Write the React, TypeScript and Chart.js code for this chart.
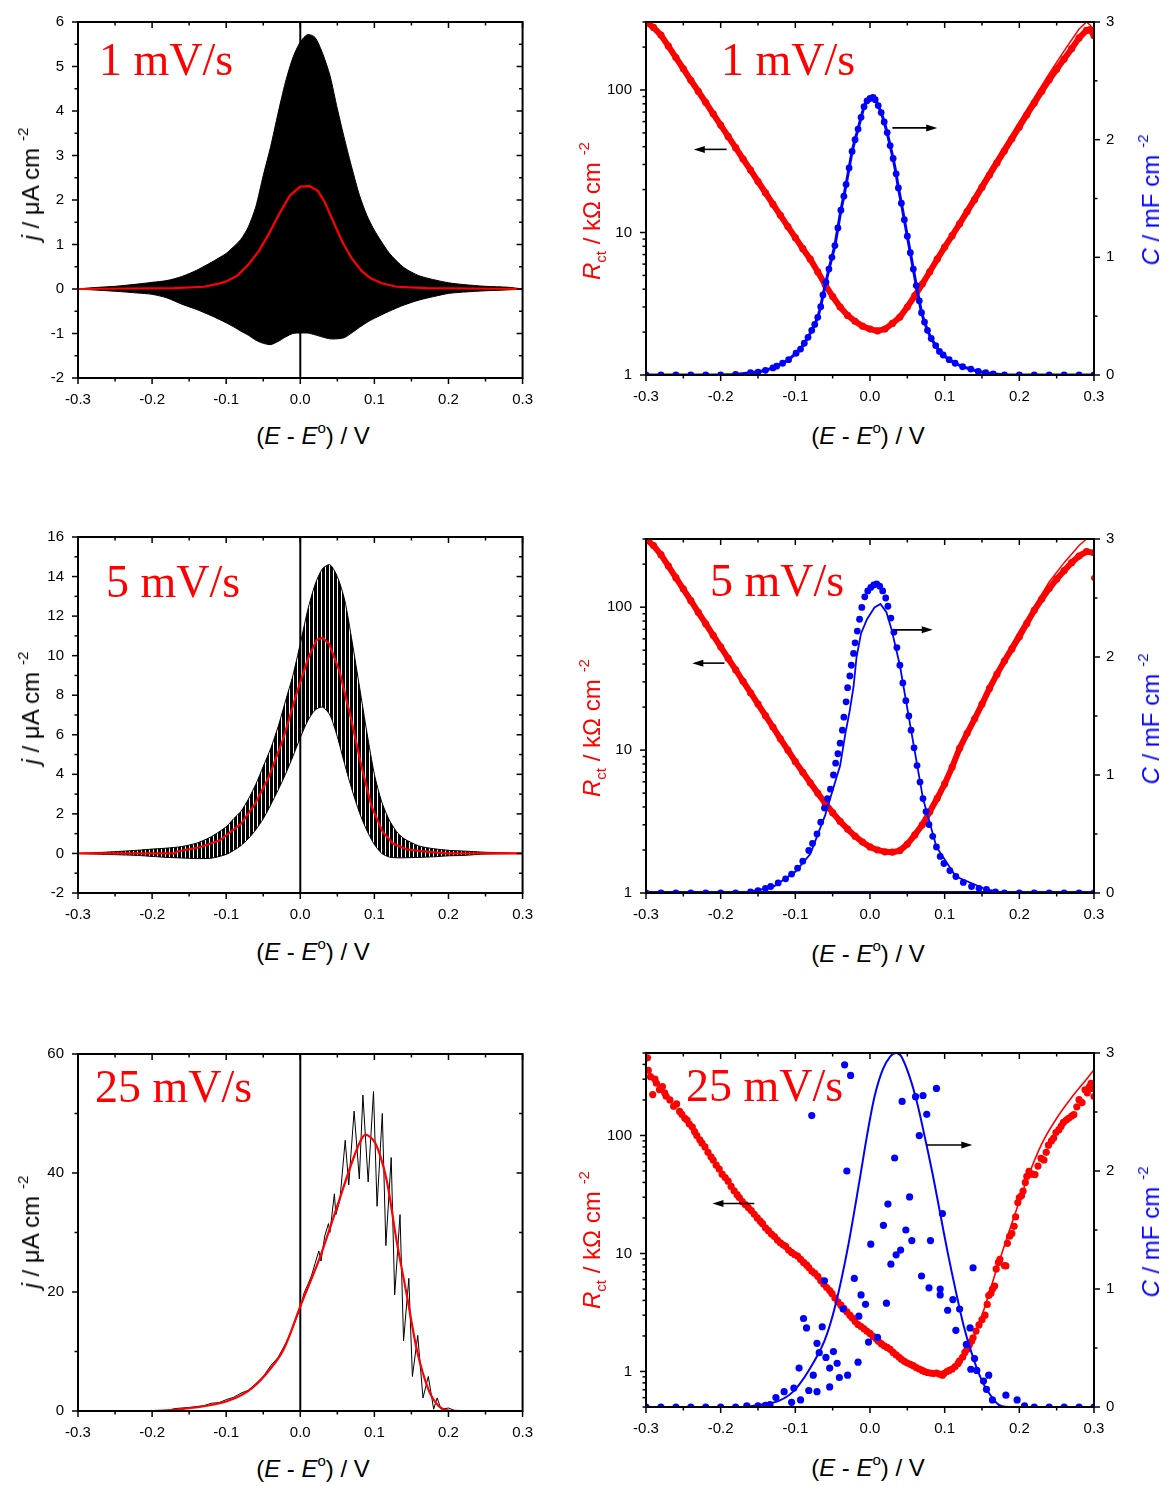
import React, { useEffect, useRef } from 'react';
import { Chart, registerables } from 'chart.js';

Chart.register(...registerables);

const FONT = '"Liberation Sans", Arial, Helvetica, sans-serif';
const SERIF = '"Liberation Serif", "Times New Roman", serif';
const RED = '#ff0000';
const BLUE = '#0000ff';
Chart.defaults.font.family = FONT;

// ---------- ticks ----------
const X_MAJOR = [-0.3, -0.2, -0.1, 0, 0.1, 0.2, 0.3];
const X_MINOR = [-0.25, -0.15, -0.05, 0.05, 0.15, 0.25];
const J1_TICKS = [-2, -1, 0, 1, 2, 3, 4, 5, 6];
const J1_MINOR = [-1.5, -0.5, 0.5, 1.5, 2.5, 3.5, 4.5, 5.5];
const J3_TICKS = [-2, 0, 2, 4, 6, 8, 10, 12, 14, 16];
const J3_MINOR = [-1, 1, 3, 5, 7, 9, 11, 13, 15];
const J5_TICKS = [0, 20, 40, 60];
const J5_MINOR = [10, 30, 50];
const C_TICKS = [0, 1, 2, 3];
const C_MINOR = [0.5, 1.5, 2.5];
const LOG_TICKS = [1, 10, 100];
const LOG_MINOR_A = [2, 3, 4, 5, 6, 7, 8, 9, 20, 30, 40, 50, 60, 70, 80, 90, 200, 300];
const LOG_MINOR_B = [0.5, 0.6, 0.7, 0.8, 0.9, 2, 3, 4, 5, 6, 7, 8, 9, 20, 30, 40, 50, 60, 70, 80, 90, 200, 300, 400, 500];

// ---------- 1 mV/s : current ----------
const E1_X = [-0.3, -0.28, -0.25, -0.22, -0.2, -0.18, -0.16, -0.14, -0.12, -0.1, -0.09, -0.08, -0.07, -0.06, -0.05, -0.04, -0.03, -0.02, -0.01, 0, 0.01, 0.02, 0.03, 0.04, 0.05, 0.06, 0.07, 0.08, 0.09, 0.1, 0.12, 0.14, 0.16, 0.18, 0.2, 0.22, 0.25, 0.28, 0.3];
const E1_UP = [0, 0.03, 0.06, 0.11, 0.15, 0.19, 0.28, 0.42, 0.6, 0.8, 0.95, 1.12, 1.4, 1.85, 2.55, 3.2, 3.95, 4.65, 5.2, 5.55, 5.72, 5.65, 5.3, 4.8, 4.05, 3.35, 2.7, 2.1, 1.65, 1.32, 0.81, 0.48, 0.3, 0.21, 0.14, 0.1, 0.06, 0.04, 0];
const E1_LO = [0, -0.02, -0.05, -0.09, -0.12, -0.2, -0.34, -0.46, -0.6, -0.76, -0.85, -0.95, -1.04, -1.15, -1.22, -1.25, -1.18, -1.08, -1.0, -0.99, -0.99, -1.03, -1.08, -1.12, -1.12, -1.09, -0.98, -0.86, -0.75, -0.66, -0.5, -0.36, -0.25, -0.17, -0.1, -0.07, -0.04, -0.02, 0];
const R1: [number, number][] = [[-0.3, 0], [-0.17, 0.02], [-0.13, 0.05], [-0.11, 0.12], [-0.1, 0.17], [-0.085, 0.3], [-0.07, 0.55], [-0.056, 0.85], [-0.042, 1.25], [-0.028, 1.7], [-0.014, 2.1], [0, 2.3], [0.013, 2.31], [0.024, 2.2], [0.033, 1.95], [0.045, 1.5], [0.057, 1.05], [0.069, 0.7], [0.083, 0.4], [0.095, 0.24], [0.11, 0.13], [0.13, 0.05], [0.17, 0.02], [0.3, 0]];

// ---------- 5 mV/s : current ----------
const E3_X = [-0.3, -0.26, -0.22, -0.2, -0.18, -0.16, -0.14, -0.12, -0.1, -0.09, -0.08, -0.07, -0.06, -0.05, -0.04, -0.03, -0.02, -0.01, 0, 0.01, 0.02, 0.03, 0.04, 0.05, 0.06, 0.07, 0.08, 0.09, 0.1, 0.11, 0.12, 0.13, 0.14, 0.16, 0.18, 0.2, 0.22, 0.25, 0.3];
const E3_UP = [0, 0.07, 0.16, 0.22, 0.27, 0.35, 0.52, 0.85, 1.35, 1.75, 2.13, 2.75, 3.5, 4.4, 5.3, 6.4, 7.7, 9.0, 10.6, 12.3, 13.6, 14.4, 14.6, 14.0, 12.8, 10.7, 8.4, 6.1, 4.0, 2.6, 1.7, 1.1, 0.75, 0.38, 0.24, 0.16, 0.12, 0.06, 0];
const E3_LO = [0, -0.05, -0.1, -0.15, -0.2, -0.23, -0.26, -0.24, -0.05, 0.15, 0.4, 0.75, 1.2, 1.75, 2.45, 3.2, 4.0, 4.9, 5.85, 6.7, 7.25, 7.4, 7.0, 5.9, 4.5, 3.2, 2.05, 1.15, 0.45, 0, -0.18, -0.22, -0.22, -0.2, -0.17, -0.12, -0.1, -0.03, 0];
const R3: [number, number][] = [[-0.3, 0], [-0.17, 0], [-0.166, 0.1], [-0.137, 0.3], [-0.109, 0.65], [-0.08, 1.5], [-0.061, 2.5], [-0.042, 3.9], [-0.023, 5.8], [-0.004, 8.2], [0.011, 9.9], [0.022, 10.8], [0.03, 10.9], [0.039, 10.6], [0.053, 9.2], [0.068, 6.9], [0.082, 4.5], [0.096, 2.4], [0.111, 1.1], [0.125, 0.5], [0.144, 0.2], [0.173, 0.08], [0.2, 0], [0.3, 0]];

// ---------- 25 mV/s : current ----------
const B5: [number, number][] = [[-0.3, 0], [-0.18, 0], [-0.17, 0.4], [-0.15, 0.6], [-0.13, 0.9], [-0.12, 1.3], [-0.11, 1.4], [-0.1, 1.9], [-0.09, 2.3], [-0.08, 3.0], [-0.07, 3.5], [-0.06, 4.6], [-0.05, 5.8], [-0.04, 7.6], [-0.03, 9.0], [-0.02, 11.3], [-0.01, 14.0], [0, 17.3], [0.005, 19.8], [0.01, 21.2], [0.015, 22.7], [0.02, 24.8], [0.025, 26.9], [0.028, 25.2], [0.033, 29.4], [0.038, 31.5], [0.04, 30.0], [0.046, 36.5], [0.048, 33.0], [0.0535, 35.5], [0.0606, 45.5], [0.0654, 38], [0.0726, 50.4], [0.0797, 39], [0.0845, 53.1], [0.0916, 38.5], [0.0988, 53.7], [0.1036, 34.4], [0.1107, 50], [0.1155, 27.8], [0.1227, 42.6], [0.1274, 19.5], [0.1346, 33], [0.1394, 11.8], [0.1465, 22.3], [0.1513, 5.8], [0.1585, 12.7], [0.1656, 2.2], [0.1728, 5.8], [0.18, 0.3], [0.1847, 2.2], [0.19, 0.3], [0.2, 0.5], [0.21, 0], [0.3, 0]];
const R5: [number, number][] = [[-0.3, 0], [-0.2, 0], [-0.17, 0.2], [-0.13, 0.8], [-0.099, 1.65], [-0.071, 3.3], [-0.047, 6.1], [-0.023, 10.2], [0, 17.6], [0.025, 25.3], [0.049, 34.1], [0.073, 42.9], [0.087, 46.4], [0.101, 45.1], [0.116, 39.1], [0.13, 28.6], [0.144, 19.3], [0.158, 9.9], [0.173, 3.6], [0.187, 0.8], [0.201, 0.05], [0.22, 0], [0.3, 0]];

// ---------- 1 mV/s : Rct and C ----------
const RCT2: [number, number][] = [[-0.3, 300], [-0.29, 275], [-0.28, 243], [-0.27, 203], [-0.26, 169], [-0.25, 141], [-0.24, 117], [-0.23, 98], [-0.22, 81.7], [-0.21, 68], [-0.2, 56.7], [-0.19, 47.2], [-0.18, 39.4], [-0.17, 32.8], [-0.16, 27.4], [-0.15, 22.8], [-0.14, 19.0], [-0.13, 15.8], [-0.12, 13.2], [-0.11, 11.0], [-0.1, 9.2], [-0.09, 7.7], [-0.08, 6.5], [-0.07, 5.3], [-0.06, 4.3], [-0.05, 3.55], [-0.04, 3.0], [-0.03, 2.62], [-0.02, 2.38], [-0.01, 2.2], [0, 2.1], [0.01, 2.04], [0.02, 2.1], [0.03, 2.3], [0.04, 2.55], [0.05, 3.0], [0.06, 3.6], [0.07, 4.35], [0.08, 5.3], [0.09, 6.5], [0.1, 7.9], [0.11, 9.5], [0.12, 11.5], [0.13, 14], [0.14, 17], [0.15, 20.8], [0.16, 25.3], [0.17, 30.8], [0.18, 37.4], [0.19, 45.5], [0.2, 55], [0.21, 67], [0.22, 81], [0.23, 98], [0.24, 118], [0.25, 140], [0.26, 165], [0.27, 195], [0.28, 232], [0.29, 262], [0.295, 265], [0.3, 240]];
const RCT2_B: [number, number][] = [[0.08, 5.5], [0.12, 12.2], [0.16, 27.5], [0.2, 60], [0.24, 130], [0.26, 188], [0.28, 268], [0.29, 300], [0.295, 285], [0.3, 262]];
const C2: [number, number][] = [[-0.3, 0], [-0.28, 0], [-0.26, 0], [-0.24, 0], [-0.22, 0], [-0.2, 0], [-0.18, 0.005], [-0.16, 0.02], [-0.15, 0.025], [-0.14, 0.04], [-0.13, 0.06], [-0.125, 0.075], [-0.117, 0.1], [-0.109, 0.13], [-0.099, 0.185], [-0.093, 0.22], [-0.088, 0.27], [-0.083, 0.32], [-0.078, 0.38], [-0.074, 0.43], [-0.07, 0.49], [-0.066, 0.58], [-0.063, 0.68], [-0.059, 0.79], [-0.055, 0.9], [-0.051, 1.0], [-0.047, 1.1], [-0.043, 1.25], [-0.039, 1.4], [-0.035, 1.52], [-0.032, 1.62], [-0.028, 1.76], [-0.024, 1.9], [-0.02, 2.0], [-0.016, 2.09], [-0.012, 2.19], [-0.008, 2.28], [-0.004, 2.33], [0, 2.35], [0.004, 2.36], [0.007, 2.34], [0.011, 2.29], [0.015, 2.23], [0.019, 2.15], [0.023, 2.06], [0.027, 1.95], [0.031, 1.84], [0.035, 1.71], [0.038, 1.59], [0.042, 1.46], [0.046, 1.32], [0.05, 1.18], [0.054, 1.04], [0.058, 0.9], [0.062, 0.76], [0.066, 0.63], [0.069, 0.53], [0.073, 0.45], [0.077, 0.38], [0.082, 0.31], [0.088, 0.25], [0.093, 0.2], [0.098, 0.17], [0.106, 0.13], [0.114, 0.1], [0.124, 0.07], [0.135, 0.05], [0.145, 0.03], [0.155, 0.02], [0.165, 0.01], [0.18, 0], [0.2, 0], [0.22, 0], [0.24, 0], [0.26, 0], [0.28, 0], [0.3, 0]];

// ---------- 5 mV/s : Rct and C ----------
const RCT4: [number, number][] = [[-0.3, 300], [-0.29, 270], [-0.28, 233], [-0.27, 194], [-0.26, 161], [-0.25, 134], [-0.24, 111], [-0.23, 92], [-0.22, 76.6], [-0.21, 63.6], [-0.2, 52.8], [-0.19, 43.9], [-0.18, 36.5], [-0.17, 30.3], [-0.16, 25.2], [-0.15, 21], [-0.14, 17.4], [-0.13, 14.5], [-0.12, 12], [-0.11, 10], [-0.1, 8.3], [-0.09, 7], [-0.08, 5.9], [-0.07, 5.0], [-0.06, 4.25], [-0.05, 3.65], [-0.04, 3.17], [-0.03, 2.8], [-0.02, 2.5], [-0.01, 2.27], [0, 2.1], [0.01, 2.0], [0.02, 1.94], [0.03, 1.93], [0.04, 1.98], [0.05, 2.2], [0.06, 2.55], [0.07, 3.0], [0.08, 3.7], [0.09, 4.6], [0.1, 5.8], [0.11, 7.6], [0.12, 10.3], [0.13, 13.1], [0.14, 16.5], [0.15, 21], [0.16, 27], [0.17, 34], [0.18, 42], [0.19, 51], [0.2, 62], [0.21, 77], [0.22, 95], [0.23, 114], [0.24, 135], [0.25, 157], [0.26, 180], [0.27, 205], [0.28, 228], [0.29, 245], [0.3, 240]];
const RCT4_B: [number, number][] = [[0.1, 6.2], [0.14, 17.5], [0.18, 45], [0.2, 68], [0.24, 150], [0.26, 205], [0.28, 270], [0.29, 300]];
const RCT4_OUT: [number, number][] = [[0.3, 160]];
const C4: [number, number][] = [[-0.3, 0], [-0.28, 0], [-0.26, 0], [-0.24, 0], [-0.22, 0], [-0.2, 0], [-0.18, 0], [-0.16, 0.01], [-0.15, 0.02], [-0.14, 0.04], [-0.133, 0.055], [-0.123, 0.085], [-0.113, 0.12], [-0.105, 0.16], [-0.097, 0.21], [-0.09, 0.27], [-0.082, 0.36], [-0.077, 0.42], [-0.071, 0.5], [-0.066, 0.6], [-0.061, 0.72], [-0.057, 0.8], [-0.053, 0.88], [-0.049, 1.0], [-0.046, 1.1], [-0.043, 1.18], [-0.04, 1.27], [-0.037, 1.38], [-0.035, 1.49], [-0.032, 1.62], [-0.03, 1.74], [-0.027, 1.84], [-0.025, 1.93], [-0.022, 2.03], [-0.02, 2.12], [-0.017, 2.22], [-0.014, 2.32], [-0.011, 2.42], [-0.007, 2.51], [-0.003, 2.56], [0.001, 2.59], [0.005, 2.61], [0.009, 2.62], [0.013, 2.6], [0.017, 2.56], [0.021, 2.5], [0.024, 2.43], [0.028, 2.33], [0.032, 2.21], [0.036, 2.08], [0.04, 1.93], [0.044, 1.78], [0.048, 1.63], [0.052, 1.5], [0.055, 1.38], [0.059, 1.23], [0.063, 1.08], [0.067, 0.94], [0.071, 0.8], [0.075, 0.69], [0.079, 0.58], [0.084, 0.48], [0.089, 0.39], [0.094, 0.31], [0.099, 0.25], [0.107, 0.19], [0.115, 0.14], [0.125, 0.09], [0.136, 0.055], [0.146, 0.04], [0.156, 0.03], [0.168, 0.01], [0.18, 0], [0.2, 0], [0.22, 0], [0.24, 0], [0.26, 0], [0.28, 0], [0.3, 0]];
const C4_FIT: [number, number][] = [[-0.3, 0], [-0.17, 0], [-0.13, 0.05], [-0.1, 0.18], [-0.08, 0.33], [-0.06, 0.66], [-0.051, 0.85], [-0.04, 1.08], [-0.033, 1.35], [-0.027, 1.55], [-0.022, 1.75], [-0.018, 2.0], [-0.012, 2.2], [-0.004, 2.32], [0.006, 2.42], [0.014, 2.45], [0.022, 2.38], [0.029, 2.23], [0.04, 1.93], [0.055, 1.38], [0.071, 0.8], [0.089, 0.39], [0.115, 0.14], [0.156, 0.03], [0.18, 0], [0.3, 0]];

// ---------- 25 mV/s : Rct and C ----------
const RCT6: [number, number][] = [[-0.298, 455], [-0.297, 357], [-0.294, 315], [-0.291, 222], [-0.288, 300], [-0.286, 277], [-0.282, 245], [-0.278, 260], [-0.275, 230], [-0.273, 215], [-0.268, 200], [-0.263, 177], [-0.259, 185], [-0.255, 160], [-0.252, 151], [-0.248, 140], [-0.245, 135], [-0.242, 125], [-0.238, 118], [-0.235, 108], [-0.232, 100], [-0.228, 92], [-0.225, 86], [-0.221, 80], [-0.217, 72], [-0.213, 66], [-0.21, 62], [-0.206, 56], [-0.202, 52], [-0.198, 47], [-0.194, 44], [-0.19, 41], [-0.186, 37], [-0.182, 34], [-0.178, 31.5], [-0.175, 29.8], [-0.171, 27.5], [-0.167, 26], [-0.163, 24.5], [-0.159, 23.1], [-0.155, 21.5], [-0.151, 20], [-0.147, 18.8], [-0.144, 17.9], [-0.14, 16.5], [-0.136, 15.6], [-0.132, 14.6], [-0.128, 13.9], [-0.124, 13], [-0.12, 12.3], [-0.116, 11.8], [-0.113, 11.5], [-0.109, 10.7], [-0.105, 10.2], [-0.101, 9.8], [-0.097, 9.5], [-0.093, 8.9], [-0.089, 8.4], [-0.085, 8.0], [-0.082, 7.6], [-0.078, 7.1], [-0.074, 6.8], [-0.07, 6.4], [-0.066, 5.9], [-0.062, 5.5], [-0.058, 5.15], [-0.054, 4.85], [-0.051, 4.57], [-0.047, 4.2], [-0.043, 3.9], [-0.039, 3.65], [-0.035, 3.42], [-0.031, 3.2], [-0.027, 3.0], [-0.024, 2.85], [-0.02, 2.65], [-0.016, 2.5], [-0.012, 2.4], [-0.008, 2.3], [-0.004, 2.19], [0, 2.1], [0.004, 1.98], [0.008, 1.9], [0.011, 1.81], [0.015, 1.72], [0.019, 1.65], [0.023, 1.6], [0.027, 1.54], [0.031, 1.45], [0.035, 1.38], [0.039, 1.32], [0.042, 1.27], [0.046, 1.22], [0.05, 1.18], [0.054, 1.15], [0.058, 1.12], [0.062, 1.08], [0.066, 1.05], [0.07, 1.02], [0.073, 1.0], [0.077, 0.98], [0.081, 0.97], [0.085, 0.96], [0.089, 0.97], [0.093, 0.95], [0.097, 0.93], [0.099, 0.96], [0.103, 1.0], [0.106, 1.02], [0.11, 1.05], [0.114, 1.1], [0.118, 1.17], [0.12, 1.23], [0.124, 1.32], [0.127, 1.45], [0.13, 1.54], [0.133, 1.68], [0.136, 1.8], [0.138, 1.93], [0.142, 2.2], [0.146, 2.48], [0.15, 2.75], [0.154, 3.0], [0.157, 3.7], [0.159, 4.4], [0.162, 4.6], [0.164, 5.0], [0.167, 5.3], [0.169, 7.4], [0.172, 8.4], [0.174, 8.9], [0.18, 7.9], [0.182, 7.85], [0.184, 12.2], [0.187, 14], [0.19, 14.8], [0.193, 17], [0.195, 20.4], [0.198, 27], [0.2, 29.8], [0.203, 31], [0.205, 33.8], [0.208, 40], [0.21, 45], [0.213, 49.7], [0.217, 47], [0.221, 46.6], [0.225, 55], [0.229, 64], [0.233, 62], [0.236, 72], [0.239, 82.7], [0.243, 90], [0.246, 95], [0.249, 106], [0.253, 112], [0.256, 120], [0.259, 129], [0.263, 135], [0.266, 140], [0.27, 146], [0.273, 150], [0.277, 175], [0.28, 201], [0.284, 190], [0.288, 244], [0.291, 230], [0.294, 260], [0.296, 277], [0.298, 250], [0.3, 214]];
const RCT6_FIT: [number, number][] = [[0.12, 1.2], [0.13, 1.45], [0.15, 3.0], [0.17, 7.5], [0.19, 18], [0.21, 42], [0.23, 85], [0.25, 140], [0.27, 210], [0.29, 300], [0.3, 360]];
const C6: [number, number][] = [[-0.3, 0], [-0.28, 0], [-0.26, 0], [-0.24, 0], [-0.22, 0], [-0.2, 0], [-0.18, 0], [-0.165, 0.01], [-0.15, 0.01], [-0.14, 0.015], [-0.134, 0.02], [-0.126, 0.08], [-0.115, 0.13], [-0.105, 0.04], [-0.102, 0.16], [-0.095, 0.33], [-0.093, 0.06], [-0.089, 0.75], [-0.085, 0.67], [-0.082, 0.14], [-0.078, 2.47], [-0.076, 0.27], [-0.071, 0.54], [-0.071, 0.13], [-0.068, 0.46], [-0.064, 0.68], [-0.061, 1.07], [-0.059, 0.42], [-0.054, 0.33], [-0.054, 0.17], [-0.049, 0.47], [-0.044, 0.37], [-0.041, 0.25], [-0.036, 0.83], [-0.034, 2.9], [-0.031, 2.0], [-0.03, 0.27], [-0.026, 2.81], [-0.021, 1.09], [-0.016, 0.38], [-0.015, 0.77], [-0.012, 0.95], [-0.006, 0.87], [-0.002, 0.55], [0.001, 1.38], [0.01, 0.59], [0.018, 1.54], [0.022, 0.88], [0.024, 1.72], [0.028, 1.21], [0.033, 2.11], [0.035, 1.29], [0.041, 1.33], [0.043, 2.59], [0.048, 1.5], [0.053, 1.78], [0.056, 1.41], [0.061, 2.63], [0.066, 2.3], [0.069, 1.11], [0.071, 2.64], [0.076, 2.48], [0.079, 1.01], [0.081, 1.41], [0.089, 2.7], [0.094, 1.0], [0.094, 0.95], [0.097, 1.64], [0.104, 0.82], [0.111, 0.91], [0.115, 0.65], [0.12, 0.83], [0.129, 0.53], [0.134, 0.67], [0.135, 0.32], [0.138, 1.18], [0.14, 0.41], [0.143, 0.31], [0.152, 0.22], [0.156, 0.15], [0.159, 0.27], [0.164, 0.06], [0.182, 0.1], [0.197, 0.06], [0.207, 0.01], [0.22, 0], [0.24, 0], [0.26, 0], [0.28, 0], [0.3, 0]];
const C6_FIT: [number, number][] = [[-0.3, 0], [-0.17, 0], [-0.146, 0.02], [-0.123, 0.05], [-0.103, 0.13], [-0.082, 0.31], [-0.061, 0.56], [-0.046, 0.87], [-0.03, 1.34], [-0.014, 1.92], [-0.004, 2.3], [0.006, 2.63], [0.017, 2.86], [0.027, 2.97], [0.035, 3.0], [0.042, 2.97], [0.053, 2.8], [0.063, 2.58], [0.073, 2.3], [0.084, 1.97], [0.094, 1.64], [0.104, 1.31], [0.115, 0.98], [0.125, 0.7], [0.135, 0.48], [0.146, 0.28], [0.156, 0.15], [0.172, 0.02], [0.185, 0], [0.3, 0]];

// arrows: [xFrom, xTo, yValue, axis]
const ARROWS2: [number, number, number, string][] = [[-0.192, -0.236, 38.3, 'y'], [0.03, 0.09, 2.1, 'y2']];
const ARROWS4: [number, number, number, string][] = [[-0.195, -0.238, 40.6, 'y'], [0.033, 0.084, 2.23, 'y2']];
const ARROWS6: [number, number, number, string][] = [[-0.155, -0.211, 26.5, 'y'], [0.076, 0.137, 2.22, 'y2']];

// ---------- helpers ----------
const pts = (a: [number, number][]) => a.map(([x, y]) => ({ x, y }));
const zip = (xs: number[], ys: number[]) => xs.map((x, i) => ({ x, y: ys[i] }));

const lineDs = (data: any[], color: any, width: number, extra: any = {}) => ({
  data, showLine: true, borderColor: color, backgroundColor: color, borderWidth: width,
  pointRadius: 0, pointHoverRadius: 0, fill: false, tension: 0, ...extra,
});
const dotDs = (data: any[], color: string, r: number, extra: any = {}) => ({
  data, showLine: false, borderColor: color, backgroundColor: color, pointRadius: r,
  pointBorderWidth: 0, pointHoverRadius: r, ...extra,
});

function makeHatch(): any {
  const c = document.createElement('canvas');
  c.width = 4; c.height = 4;
  const g = c.getContext('2d');
  if (!g) return '#222';
  g.fillStyle = '#000';
  g.fillRect(0, 0, 3, 4);
  return g.createPattern(c, 'repeat') || '#222';
}

type Panel = {
  key: string;
  rect: [number, number, number, number];
  dual: boolean;
  y: { log: boolean; min: number; max: number; ticks: number[]; minor: number[] };
  arrows?: [number, number, number, string][];
  build: (hatch: any) => any[];
};

const zeroLine = (min: number, max: number) => lineDs([{ x: 0, y: min }, { x: 0, y: max }], '#000', 2, { order: 5 });

const PANELS: Panel[] = [
  {
    key: 'p1', rect: [78, 14, 526, 378], dual: false,
    y: { log: false, min: -2, max: 6, ticks: J1_TICKS, minor: J1_MINOR },
    build: () => [
      lineDs(pts(R1), RED, 2.2, { order: 0 }),
      lineDs(zip(E1_X, E1_UP), '#000', 1, { fill: '+1', backgroundColor: '#000', tension: 0.25, order: 3 }),
      lineDs(zip(E1_X, E1_LO), '#000', 1, { tension: 0.25, order: 4 }),
      zeroLine(-2, 6),
    ],
  },
  {
    key: 'p2', rect: [646, 14, 1094, 375], dual: true,
    y: { log: true, min: 1, max: 300, ticks: LOG_TICKS, minor: LOG_MINOR_A },
    arrows: ARROWS2,
    build: () => [
      { ...dotDs(pts(C2), BLUE, 3.4, { yAxisID: 'y2', order: 0 }), showLine: true, borderWidth: 3 },
      { ...dotDs(pts(RCT2), RED, 3.6, { yAxisID: 'y', order: 2 }), showLine: true, borderWidth: 6 },
      lineDs(pts(RCT2_B), RED, 1.5, { yAxisID: 'y', order: 3 }),
    ],
  },
  {
    key: 'p3', rect: [78, 529, 526, 893], dual: false,
    y: { log: false, min: -2, max: 16, ticks: J3_TICKS, minor: J3_MINOR },
    build: (hatch) => [
      lineDs(pts(R3), RED, 2.2, { order: 0 }),
      lineDs(zip(E3_X, E3_UP), '#000', 1, { fill: '+1', backgroundColor: hatch, tension: 0.25, order: 3 }),
      lineDs(zip(E3_X, E3_LO), '#000', 1, { tension: 0.25, order: 4 }),
      zeroLine(-2, 16),
    ],
  },
  {
    key: 'p4', rect: [646, 531, 1094, 893], dual: true,
    y: { log: true, min: 1, max: 300, ticks: LOG_TICKS, minor: LOG_MINOR_A },
    arrows: ARROWS4,
    build: () => [
      lineDs(pts(C4_FIT), BLUE, 1.8, { yAxisID: 'y2', order: 0 }),
      dotDs(pts(C4), BLUE, 3.4, { yAxisID: 'y2', order: 1 }),
      lineDs(pts(C4.filter((p) => p[1] === 0)), BLUE, 4, { yAxisID: 'y2', order: 1 }),
      { ...dotDs(pts(RCT4), RED, 3.6, { yAxisID: 'y', order: 2 }), showLine: true, borderWidth: 6 },
      lineDs(pts(RCT4_B), RED, 1.5, { yAxisID: 'y', order: 3 }),
      dotDs(pts(RCT4_OUT), RED, 3, { yAxisID: 'y', order: 3 }),
    ],
  },
  {
    key: 'p5', rect: [78, 1046, 526, 1411], dual: false,
    y: { log: false, min: 0, max: 60, ticks: J5_TICKS, minor: J5_MINOR },
    build: () => [
      lineDs(pts(R5), RED, 2.2, { tension: 0.3, order: 0 }),
      lineDs(pts(B5), '#000', 1, { order: 2 }),
      zeroLine(0, 60),
    ],
  },
  {
    key: 'p6', rect: [646, 1045, 1094, 1407], dual: true,
    y: { log: true, min: 0.5, max: 500, ticks: LOG_TICKS, minor: LOG_MINOR_B },
    arrows: ARROWS6,
    build: () => [
      lineDs(pts(C6_FIT), BLUE, 2, { yAxisID: 'y2', tension: 0.3, order: 0 }),
      dotDs(pts(C6), BLUE, 3.6, { yAxisID: 'y2', order: 1 }),
      lineDs(pts(RCT6_FIT), RED, 1.6, { yAxisID: 'y', tension: 0.3, order: 2 }),
      dotDs(pts(RCT6), RED, 3.6, { yAxisID: 'y', order: 3 }),
    ],
  },
];

const LEFT_W = 72, RIGHT_W = 45, PAD_R = 20, PAD_T = 15, XAX_H = 40;

const fmtX = (v: number) => (Math.abs(v) < 1e-9 ? '0.0' : Number(v).toFixed(1));

function decorPlugin(p: Panel) {
  return {
    id: 'decor_' + p.key,
    afterDatasetsDraw(chart: any) {
      const ctx = chart.ctx;
      const a = chart.chartArea;
      const xs = chart.scales.x, ys = chart.scales.y, y2 = chart.scales.y2;
      ctx.save();
      ctx.strokeStyle = '#000';
      ctx.fillStyle = '#000';
      const ln = (x1: number, y1: number, x2: number, yy2: number) => {
        ctx.beginPath(); ctx.moveTo(x1, y1); ctx.lineTo(x2, yy2); ctx.stroke();
      };
      ctx.lineWidth = 1.5;
      X_MAJOR.forEach((v) => { const px = xs.getPixelForValue(v); ln(px, a.bottom, px, a.bottom + 6); ln(px, a.top, px, a.top + 6); });
      X_MINOR.forEach((v) => { const px = xs.getPixelForValue(v); ln(px, a.bottom, px, a.bottom + 3.5); ln(px, a.top, px, a.top + 3.5); });
      p.y.ticks.forEach((v) => { const py = ys.getPixelForValue(v); ln(a.left - 6, py, a.left, py); if (!p.dual) ln(a.right, py, a.right - 6, py); });
      p.y.minor.forEach((v) => { const py = ys.getPixelForValue(v); ln(a.left - 3.5, py, a.left, py); if (!p.dual) ln(a.right, py, a.right - 3.5, py); });
      if (p.dual && y2) {
        C_TICKS.forEach((v) => { const py = y2.getPixelForValue(v); ln(a.right, py, a.right + 6, py); });
        C_MINOR.forEach((v) => { const py = y2.getPixelForValue(v); ln(a.right, py, a.right + 3.5, py); });
      }
      ctx.lineWidth = 2;
      ctx.strokeRect(a.left, a.top, a.right - a.left, a.bottom - a.top);
      (p.arrows || []).forEach(([x1, x2, yv, ax]) => {
        const sc = chart.scales[ax];
        const px1 = xs.getPixelForValue(x1), px2 = xs.getPixelForValue(x2), py = sc.getPixelForValue(yv);
        const dir = Math.sign(px2 - px1);
        ctx.lineWidth = 1.6;
        ln(px1, py, px2 - dir * 6, py);
        ctx.beginPath();
        ctx.moveTo(px2, py);
        ctx.lineTo(px2 - dir * 11, py - 3.5);
        ctx.lineTo(px2 - dir * 11, py + 3.5);
        ctx.closePath();
        ctx.fill();
      });
      ctx.restore();
    },
  };
}

function PanelChart({ p }: { p: Panel }) {
  const ref = useRef<HTMLCanvasElement | null>(null);
  const [l, t, r, b] = p.rect;
  const cl = l - LEFT_W, ct = t - PAD_T;
  const cw = r + (p.dual ? RIGHT_W : PAD_R) - cl;
  const ch = b + XAX_H - ct;
  useEffect(() => {
    if (!ref.current) return;
    const tickFont = { family: FONT, size: 15 };
    const scales: any = {
      x: {
        type: 'linear', min: -0.3, max: 0.3,
        grid: { display: false, drawTicks: false }, border: { display: false },
        ticks: { color: '#000', font: tickFont, padding: 13, maxRotation: 0, autoSkip: false, callback: (v: any) => fmtX(Number(v)) },
        afterBuildTicks: (s: any) => { s.ticks = X_MAJOR.map((v) => ({ value: v })); },
        afterFit: (s: any) => { s.height = XAX_H; },
      },
      y: {
        type: p.y.log ? 'logarithmic' : 'linear', position: 'left', min: p.y.min, max: p.y.max,
        grid: { display: false, drawTicks: false }, border: { display: false },
        ticks: { color: '#000', font: tickFont, padding: 14, autoSkip: false, callback: (v: any) => String(Number(v)) },
        afterBuildTicks: (s: any) => { s.ticks = p.y.ticks.map((v) => ({ value: v })); },
        afterFit: (s: any) => { s.width = LEFT_W; },
      },
    };
    if (p.dual) {
      scales.y2 = {
        type: 'linear', position: 'right', min: 0, max: 3,
        grid: { display: false, drawTicks: false }, border: { display: false },
        ticks: { color: '#000', font: tickFont, padding: 12, autoSkip: false, callback: (v: any) => String(Number(v)) },
        afterBuildTicks: (s: any) => { s.ticks = C_TICKS.map((v) => ({ value: v })); },
        afterFit: (s: any) => { s.width = RIGHT_W; },
      };
    }
    const chart = new Chart(ref.current, {
      type: 'scatter',
      data: { datasets: p.build(makeHatch()) },
      options: {
        responsive: false,
        animation: false,
        devicePixelRatio: 1,
        layout: { padding: { top: PAD_T, left: 0, bottom: 0, right: p.dual ? 0 : PAD_R } },
        plugins: { legend: { display: false }, tooltip: { enabled: false } },
        events: [],
        scales,
      } as any,
      plugins: [decorPlugin(p)],
    } as any);
    return () => chart.destroy();
  }, []);
  return (
    <canvas
      ref={ref}
      width={cw}
      height={ch}
      style={{ position: 'absolute', left: cl, top: ct, width: cw, height: ch }}
    />
  );
}

const supStyle: any = { fontSize: 15, position: 'relative', top: -11, marginLeft: 7 };
const subStyle: any = { fontSize: 15, position: 'relative', top: 6 };

function VTitle({ cx, cy, color, children }: any) {
  return (
    <div style={{ position: 'absolute', left: cx, top: cy, transform: 'translate(-50%, -50%) rotate(-90deg)', whiteSpace: 'nowrap', fontSize: 24, lineHeight: 1, color, fontFamily: FONT }}>
      {children}
    </div>
  );
}
function XTitle({ cx, cy }: any) {
  return (
    <div style={{ position: 'absolute', left: cx, top: cy, transform: 'translate(-50%, -50%)', whiteSpace: 'nowrap', fontSize: 24, lineHeight: 1, color: '#000', fontFamily: FONT }}>
      (<i>E</i> - <i>E</i><span style={{ fontSize: 15, position: 'relative', top: -11 }}>o</span>) / V
    </div>
  );
}
function Speed({ x, baseline, text }: any) {
  return (
    <div style={{ position: 'absolute', left: x, top: baseline - 38.5, fontSize: 46, lineHeight: '46px', color: RED, fontFamily: SERIF, whiteSpace: 'nowrap' }}>
      {text}
    </div>
  );
}

const JT = () => (<><i>j</i> / μA cm<span style={supStyle}>-2</span></>);
const RT = () => (<><i>R</i><span style={subStyle}>ct</span> / kΩ cm<span style={supStyle}>-2</span></>);
const CT = () => (<><i>C</i> / mF cm<span style={supStyle}>-2</span></>);

export default function App() {
  return (
    <div style={{ position: 'absolute', left: 0, top: 0, width: 1167, height: 1486, background: '#fff', overflow: 'hidden', fontFamily: FONT }}>
      {PANELS.map((p) => <PanelChart key={p.key} p={p} />)}

      <VTitle cx={31} cy={184} color="#000"><JT /></VTitle>
      <VTitle cx={31} cy={708} color="#000"><JT /></VTitle>
      <VTitle cx={31} cy={1232} color="#000"><JT /></VTitle>

      <VTitle cx={592} cy={211} color={RED}><RT /></VTitle>
      <VTitle cx={592} cy={728} color={RED}><RT /></VTitle>
      <VTitle cx={592} cy={1240} color={RED}><RT /></VTitle>

      <VTitle cx={1151} cy={200} color={BLUE}><CT /></VTitle>
      <VTitle cx={1151} cy={719} color={BLUE}><CT /></VTitle>
      <VTitle cx={1151} cy={1232} color={BLUE}><CT /></VTitle>

      <XTitle cx={313} cy={436} />
      <XTitle cx={868} cy={436} />
      <XTitle cx={313} cy={952} />
      <XTitle cx={868} cy={954} />
      <XTitle cx={313} cy={1469} />
      <XTitle cx={868} cy={1468} />

      <Speed x={99} baseline={75} text="1 mV/s" />
      <Speed x={721} baseline={75} text="1 mV/s" />
      <Speed x={106} baseline={597} text="5 mV/s" />
      <Speed x={710} baseline={596} text="5 mV/s" />
      <Speed x={95} baseline={1102} text="25 mV/s" />
      <Speed x={686} baseline={1101} text="25 mV/s" />
    </div>
  );
}
